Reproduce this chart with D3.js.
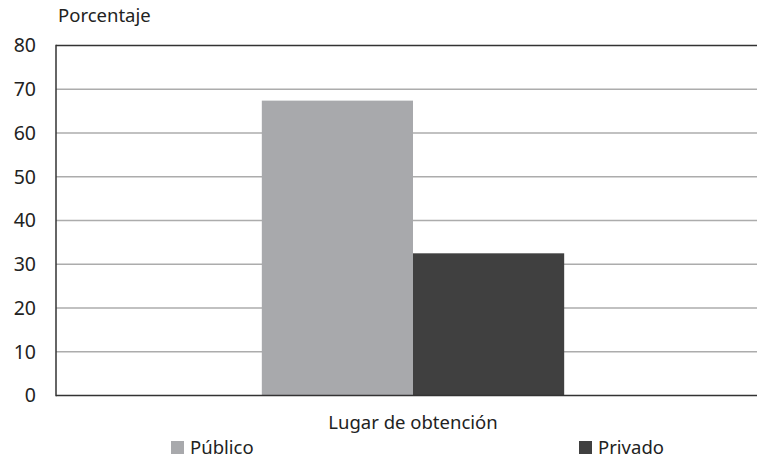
<!DOCTYPE html>
<html>
<head>
<meta charset="utf-8">
<script src="https://cdn.jsdelivr.net/npm/d3@7"></script>
<style>
  html, body { margin: 0; padding: 0; background: #fff; }
  svg { display: block; font-family: "Noto Sans", sans-serif; }
</style>
</head>
<body>
<svg id="chart" width="757" height="459"></svg>
<script>
const categories = ["Lugar de obtención"];
const seriesNames = ["Público", "Privado"];
const seriesValues = [67.4, 32.5];
const seriesColors = ["#a8a9ac", "#404040"];
const yTicks = [0, 10, 20, 30, 40, 50, 60, 70, 80];
const yTitle = "Porcentaje";

const svg = d3.select("#chart");
const mLeft = 56, mRight = 770, mTop = 45.5, mBottom = 395.5;

const y = d3.scaleLinear().domain([0, 80]).range([mBottom, mTop]);
const x0 = d3.scaleBand().domain(categories).range([mLeft, mRight]).padding(0.405);
const x1 = d3.scaleBand().domain(seriesNames).range([0, x0.bandwidth()]).padding(0);

// gridlines
svg.append("g").selectAll("line")
  .data(yTicks.filter(t => t > 0 && t < 80))
  .join("line")
  .attr("x1", mLeft).attr("x2", 757)
  .attr("y1", d => y(d)).attr("y2", d => y(d))
  .attr("stroke", "#acacac").attr("stroke-width", 1.5);

// bars
const g = svg.append("g").selectAll("g").data(categories).join("g")
  .attr("transform", d => `translate(${x0(d)},0)`);
g.selectAll("rect")
  .data(seriesNames.map((s, i) => ({ s, v: seriesValues[i], c: seriesColors[i] })))
  .join("rect")
  .attr("x", d => x1(d.s))
  .attr("width", x1.bandwidth())
  .attr("y", d => y(d.v))
  .attr("height", d => y(0) - y(d.v))
  .attr("fill", d => d.c);

// frame: top, left, bottom
svg.append("line").attr("x1", mLeft).attr("x2", 757).attr("y1", y(80)).attr("y2", y(80))
  .attr("stroke", "#333").attr("stroke-width", 1.5);
svg.append("line").attr("x1", mLeft).attr("x2", 757).attr("y1", y(0)).attr("y2", y(0))
  .attr("stroke", "#333").attr("stroke-width", 1.5);
svg.append("line").attr("x1", mLeft).attr("x2", mLeft).attr("y1", y(80) - 0.75).attr("y2", y(0) + 0.75)
  .attr("stroke", "#333").attr("stroke-width", 1.5);

// y axis labels
const yAxis = d3.axisLeft(y).tickValues(yTicks).tickSize(0).tickPadding(20);
const ya = svg.append("g").attr("transform", `translate(${mLeft},0)`).call(yAxis);
ya.select(".domain").remove();
ya.selectAll("text").attr("font-size", 19.5).attr("fill", "#222")
  .attr("font-family", "'Noto Sans', sans-serif");

// y title
svg.append("text").attr("x", 58).attr("y", 22).attr("font-size", 18.5).attr("fill", "#222")
  .text(yTitle);

// x category label
const xAxis = d3.axisBottom(x0).tickSize(0).tickPadding(20);
const xa = svg.append("g").attr("transform", `translate(0,${y(0)})`).call(xAxis);
xa.select(".domain").remove();
xa.selectAll("text").attr("font-size", 18.5).attr("fill", "#222")
  .attr("font-family", "'Noto Sans', sans-serif");

// legend
const legendX = [171, 579];
const lg = svg.append("g").selectAll("g").data(seriesNames).join("g")
  .attr("transform", (d, i) => `translate(${legendX[i]},441)`);
lg.append("rect").attr("width", 13).attr("height", 13).attr("fill", (d, i) => seriesColors[i]);
lg.append("text").attr("x", 19).attr("y", 13).attr("font-size", 18.5).attr("fill", "#222").text(d => d);
</script>
</body>
</html>
